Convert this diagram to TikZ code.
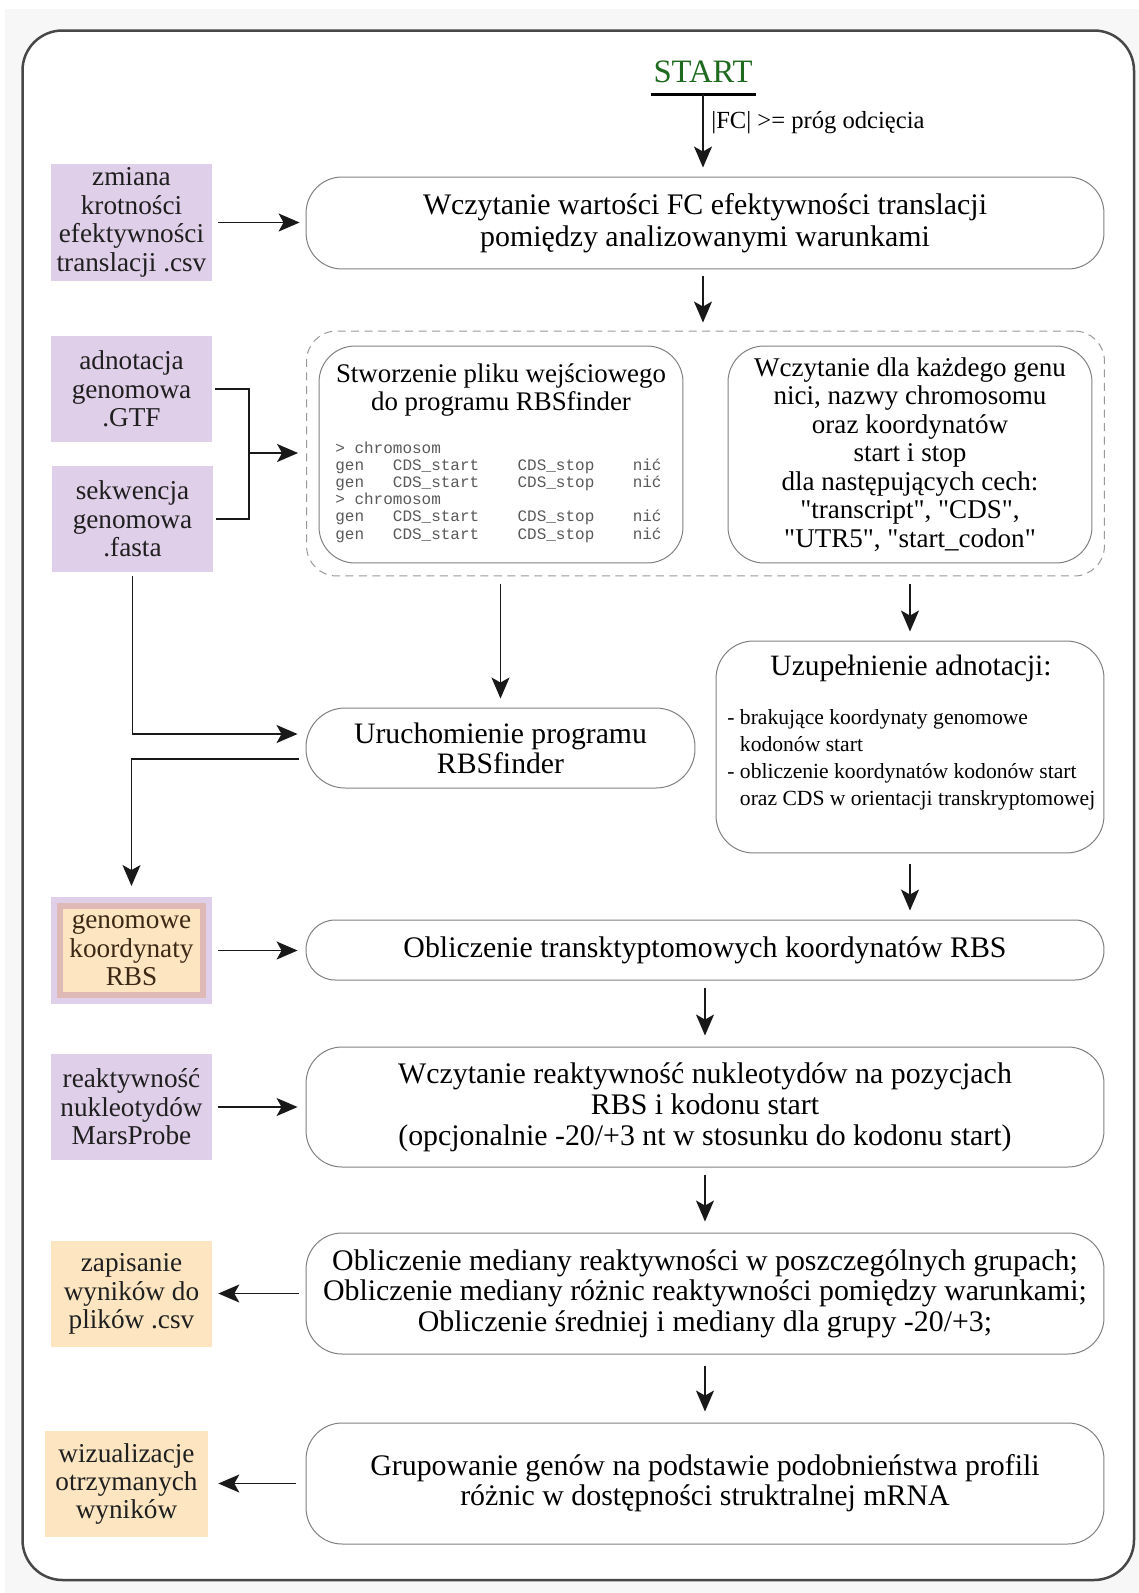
\documentclass[tikz,border=0pt]{standalone}
\usepackage{fontspec}
\setmainfont{Liberation Serif}
\setmonofont{Liberation Mono}
\usetikzlibrary{positioning,calc,arrows.meta}

\definecolor{inpurple}{HTML}{E0CFE9}
\definecolor{outpeach}{HTML}{FDE5C2}
\definecolor{rbsrose}{HTML}{DFB9B6}
\definecolor{startgreen}{HTML}{1E6A1E}
\definecolor{pagegray}{HTML}{F7F7F7}
\newcommand{\fsz}[2]{\fontsize{#1}{#2}\selectfont}
\newcommand{\qq}{\textquotedbl}

\begin{document}
\begin{tikzpicture}[
    x=0.02cm, y=-0.02cm,
    box/.style={draw=black!50, line width=0.02cm, rounded corners=0.72cm, align=center, inner sep=0pt},
    widebox/.style={box, minimum width=15.96cm},
    halfbox/.style={box, minimum width=7.28cm, minimum height=4.34cm},
    infile/.style={fill=inpurple, minimum width=3.22cm, minimum height=2.12cm, align=center, inner sep=0pt, text=black!88, font=\fsz{15.5}{16.2}},
    outfile/.style={infile, fill=outpeach},
    rbsfile/.style={fill=outpeach, draw=rbsrose, line width=0.12cm, preaction={draw=inpurple, line width=0.36cm},
        minimum width=2.86cm, minimum height=1.78cm, outer sep=0.18cm, align=center, inner sep=0pt,
        text={rgb,255:red,60;green,40;blue,20}, font=\fsz{15.5}{16.2}},
    flow/.style={draw=black!90, line width=0.03cm, -{Stealth[length=0.42cm, width=0.36cm, inset=0.1cm]},
        shorten <=0.14cm, shorten >=0.16cm},
    joint/.style={draw=black!90, line width=0.03cm},
    bigtxt/.style={font=\fsz{17}{17.9}}
]

% page and frame
\useasboundingbox (0,0) rectangle (1139,1593);
\fill[pagegray] (5,9) rectangle (1139,1593);
\draw[draw=black!72, line width=0.05cm, fill=white, rounded corners=0.8cm] (22.5,30.5) rectangle (1134,1580);

% start
\node[text=startgreen, font=\fsz{18.6}{20}, inner sep=0pt] (start) at (703,72) {START};
\coordinate (startbar) at (703,94);
\draw[line width=0.06cm] ([xshift=-1.04cm]startbar) -- ([xshift=1.06cm]startbar);

% main column
\node[widebox, minimum height=1.84cm, bigtxt] (fcread) at (705,223)
    {Wczytanie wartości FC efektywności translacji\\pomiędzy analizowanymi warunkami};

\node[widebox, draw=black!40, dash pattern=on 0.16cm off 0.11cm, minimum height=4.9cm, rounded corners=0.6cm] (group) at (705.5,453.5) {};

\node[halfbox] (mkinput) at (501,454.5) {};
\node[font=\fsz{15.3}{15.9}, align=center, inner sep=0pt] (mkinputtxt) at (501,390)
    {Stworzenie pliku wejściowego\\do programu RBSfinder};
\node[anchor=west, align=left, font=\ttfamily\fsz{9.1}{9.8}, text=black!65, inner sep=0pt] (fastain) at (335,492)
    {>\ chromosom\\
     gen\ \ \ CDS\_start\ \ \ \ CDS\_stop\ \ \ \ nić\\
     gen\ \ \ CDS\_start\ \ \ \ CDS\_stop\ \ \ \ nić\\
     >\ chromosom\\
     gen\ \ \ CDS\_start\ \ \ \ CDS\_stop\ \ \ \ nić\\
     gen\ \ \ CDS\_start\ \ \ \ CDS\_stop\ \ \ \ nić};

\node[halfbox, font=\fsz{15.4}{16.2}] (gtfread) at (910,454.5)
    {Wczytanie dla każdego genu\\nici, nazwy chromosomu\\oraz koordynatów\\start i stop\\dla następujących cech:\\
     \qq transcript\qq, \qq CDS\qq,\\\qq UTR5\qq, \qq start\_codon\qq};

\node[box, minimum width=7.78cm, minimum height=1.6cm, rounded corners=0.78cm, font=\fsz{16.9}{17}] (run) at (500.5,748)
    {Uruchomienie programu\\RBSfinder};

\node[box, minimum width=7.76cm, minimum height=4.24cm, rounded corners=0.75cm] (fixgtf) at (910,747) {};
\node[font=\fsz{16.8}{18}, inner sep=0pt] (fixtitle) at (911,668) {Uzupełnienie adnotacji:};
\node[anchor=west, align=left, font=\fsz{12.3}{15.3}, inner sep=0pt] (fixlist) at (727,760)
    {- brakujące koordynaty genomowe\\\phantom{-\ }kodonów start\\
     - obliczenie koordynatów kodonów start\\\phantom{-\ }oraz CDS w orientacji transkryptomowej};

\node[widebox, minimum height=1.2cm, rounded corners=0.58cm, bigtxt] (rbscalc) at (705,950)
    {Obliczenie transktyptomowych koordynatów RBS};

\node[widebox, minimum height=2.4cm, font=\fsz{17}{17.6}] (reactread) at (705,1107)
    {Wczytanie reaktywność nukleotydów na pozycjach\\RBS i kodonu start\\(opcjonalnie -20/+3 nt w stosunku do kodonu start)};

\node[widebox, minimum height=2.42cm, font=\fsz{17}{17.3}] (median) at (705,1293.5)
    {Obliczenie mediany reaktywności w poszczególnych grupach;\\
     Obliczenie mediany różnic reaktywności pomiędzy warunkami;\\
     Obliczenie średniej i mediany dla grupy -20/+3;};

\node[widebox, minimum height=2.42cm, font=\fsz{17}{17}] (cluster) at (705,1483.5)
    {Grupowanie genów na podstawie podobnieństwa profili\\różnic w dostępności struktralnej mRNA};

% input / output files
\node[infile, minimum height=2.34cm] (fcfile) at (131.5,222.5) {zmiana\\krotności\\efektywności\\translacji .csv};
\node[infile] (gtf) at (131.5,389) {adnotacja\\genomowa\\.GTF};
\node[infile] (fasta) at (132.5,519) {sekwencja\\genomowa\\.fasta};
\node[rbsfile] (rbs) at (131.5,950.5) {genomowe\\koordynaty\\RBS};
\node[infile] (react) at (131.5,1107) {reaktywność\\nukleotydów\\MarsProbe};
\node[outfile] (csvout) at (131.5,1294) {zapisanie\\wyników do\\plików .csv};
\node[outfile, minimum width=3.26cm] (plots) at (126.5,1484) {wizualizacje\\otrzymanych\\wyników};

% connectors
\draw[flow, shorten <=0pt, shorten >=0.18cm] (startbar) -- (startbar |- fcread.north);
\node[anchor=west, font=\fsz{14}{15}, inner sep=0pt] (cutoff) at (711,123) {|FC| >= próg odcięcia};
\draw[flow, shorten <=0.12cm, shorten >=0.12cm] (fcfile.east) -- (fcfile.east -| fcread.west);
\draw[flow] (startbar |- fcread.south) -- (startbar |- group.north);

\coordinate (merge) at (249,453);
\draw[joint] ([xshift=0.06cm]gtf.east) -| (merge) |- ([xshift=0.06cm]fasta.east);
\draw[flow, shorten <=0pt] (merge) -- (merge -| group.west);

\draw[flow, shorten <=0.16cm, shorten >=0.18cm] (group.south -| run) -- (run.north);
\draw[flow, shorten <=0.16cm, shorten >=0.18cm] (group.south -| fixgtf) -- (fixgtf.north);
\draw[flow, shorten <=0.08cm] (fasta.south) |- ([yshift=0.28cm]run.west);
\draw[flow, shorten >=0.22cm] ([yshift=-0.22cm]run.west) -| (rbs.north);
\draw[flow, shorten <=0.22cm, shorten >=0.18cm] (fixgtf.south) -- (fixgtf.south |- rbscalc.north);
\draw[flow, shorten <=0.12cm] (rbs.east) -- (rbs.east -| rbscalc.west);
\draw[flow, shorten >=0.22cm] (rbscalc.south) -- (reactread.north);
\draw[flow, shorten <=0.12cm] (react.east) -- (react.east -| reactread.west);
\draw[flow, shorten >=0.22cm] (reactread.south) -- (median.north);
\draw[flow, shorten >=0.12cm] (median.west) -- (median.west -| csvout.east);
\draw[flow, shorten <=0.22cm, shorten >=0.22cm] (median.south) -- (cluster.north);
\draw[flow, shorten <=0.2cm, shorten >=0.2cm] (cluster.west) -- (cluster.west -| plots.east);

\end{tikzpicture}
\end{document}
